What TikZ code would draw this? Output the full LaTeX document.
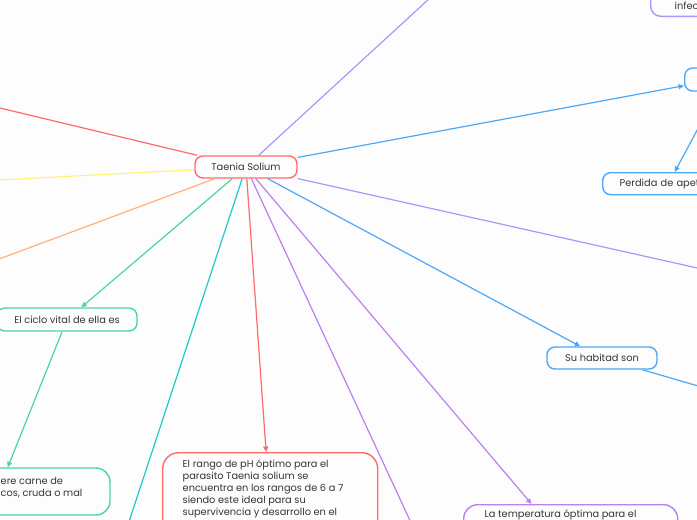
\documentclass[tikz,border=0pt]{standalone}
\usepackage{fontspec}
\setmainfont{Poppins}
\usetikzlibrary{arrows.meta}
\definecolor{bg}{HTML}{FDFDFD}
\definecolor{txt}{HTML}{353535}
\definecolor{cred}{HTML}{FF6B6B}
\definecolor{cblue}{HTML}{4DA8F7}
\definecolor{cgreen}{HTML}{48D6A2}
\definecolor{cteal}{HTML}{1DC9D0}
\definecolor{clav}{HTML}{A09BFF}
\definecolor{cviolet}{HTML}{BE7FF0}
\definecolor{corange}{HTML}{FFB27D}
\definecolor{cyellow}{HTML}{FFF27A}
\begin{document}
\begin{tikzpicture}[x=1pt,y=-1pt,
  every node/.style={font=\fontsize{9.8}{12}\selectfont, text=txt},
  box/.style={draw, line width=1.4pt, rounded corners=8pt, inner sep=0pt},
  conn/.style={line width=1.2pt},
  arr/.style={conn, -{Triangle[length=5.5pt,width=5pt]}}]
\useasboundingbox (0,0) rectangle (697,520);
\fill[bg] (0,0) rectangle (697,520);
\clip (0,0) rectangle (697,520);

% nodes
\node[box, draw=cred, minimum width=102pt, minimum height=22pt] (c) at (246,167) {Taenia Solium};
\node[box, draw=clav, rounded corners=10pt, anchor=south west, inner xsep=24pt, inner ysep=7pt] (inf) at (650,17) {\parbox[b][40pt][b]{100pt}{infec}};
\node[box, draw=cblue, anchor=west, minimum width=66pt, minimum height=23pt] (tr2) at (684,79.5) {};
\node[box, draw=cblue, anchor=north west, minimum height=22pt, inner xsep=17pt, text width=110pt, align=left] (perd) at (602,172) {Perdida de apet};
\node[box, draw=cblue, minimum width=110pt, minimum height=22pt] (su) at (602,358) {Su habitad son};
\node[box, draw=cgreen, minimum width=140pt, minimum height=23pt] (cic) at (67,319.5) {El ciclo vital de ella es};
\node[box, draw=cgreen, rounded corners=14pt, minimum width=224pt, minimum height=47pt] (bl) at (-2,491.5) {};
\node[anchor=north west, align=left, inner sep=0pt] (bltxt) at (0.5,477.5) {ere carne de\\cos, cruda o mal};
\node[box, draw=cred, rounded corners=16pt, anchor=north west, inner xsep=20pt, inner ysep=7.5pt] (ph) at (162,452)
  {\parbox[t][100pt][t]{175pt}{\raggedright El rango de pH óptimo para el\\parasito Taenia solium se\\encuentra en los rangos de 6 a 7\\siendo este ideal para su\\supervivencia y desarrollo en el}};
\node[box, draw=cviolet, rounded corners=14pt, anchor=north west, inner xsep=21pt, inner ysep=5.5pt] (tmp) at (463,504)
  {\parbox[t][80pt][t]{172pt}{\raggedright La temperatura óptima para el}};

% free ends
\coordinate (oTop) at (446,-16.7);
\coordinate (oR) at (742,278);
\coordinate (oL1) at (-25,102);
\coordinate (oL2) at (-25,181.3);
\coordinate (oL3) at (-25,268);
\coordinate (oB1) at (118,555);
\coordinate (oB2) at (426,555);
\coordinate (oSu) at (760,404);

% connectors
\draw[conn, clav] (c) -- (oTop);
\draw[conn, clav] (c) -- (oR);
\draw[conn, cred] (c) -- (oL1);
\draw[conn, cyellow] (c) -- (oL2);
\draw[conn, corange] (c) -- (oL3);
\draw[conn, cteal] (c) -- (oB1);
\draw[conn, cviolet] (c) -- (oB2);
\draw[arr, cblue] (c) -- (tr2);
\draw[arr, cblue] (tr2.south) -- (perd.north);
\draw[arr, cblue] (c) -- (su);
\draw[conn, cblue] (su) -- (oSu);
\draw[arr, cgreen] (c) -- (cic);
\draw[arr, cgreen] (cic) -- (bl);
\draw[arr, cred] (c) -- (ph);
\draw[arr, cviolet] (c) -- (tmp);
\end{tikzpicture}
\end{document}
